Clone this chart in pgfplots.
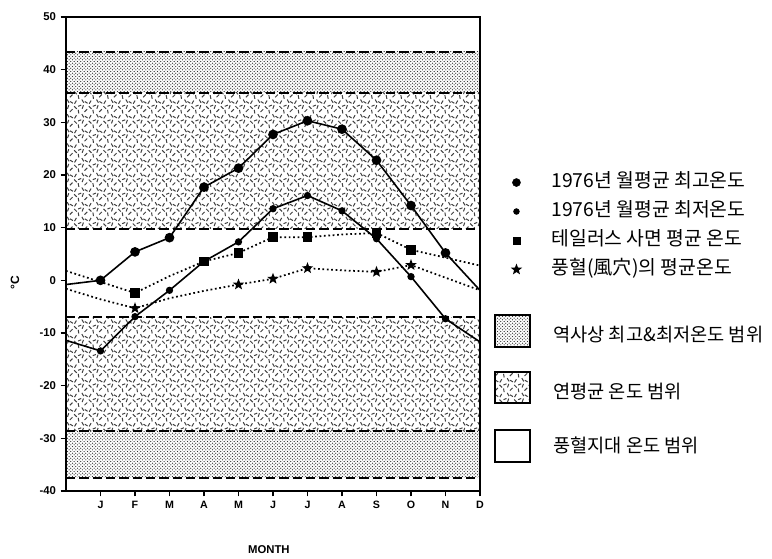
\documentclass[border=0pt]{standalone}
\usepackage{pgfplots}
\pgfplotsset{compat=1.18}
\usepackage{fontspec}
\setmainfont{Liberation Sans}
\newfontfamily\kr{Noto Sans CJK KR}
\usetikzlibrary{patterns}

\pgfdeclarepatternformonly{stipple}{\pgfqpoint{-1pt}{-1pt}}{\pgfqpoint{3.5pt}{3.5pt}}{\pgfqpoint{2.5pt}{2.5pt}}{%
  \pgfpathcircle{\pgfqpoint{0.6pt}{0.6pt}}{0.48pt}%
  \pgfpathcircle{\pgfqpoint{1.85pt}{1.85pt}}{0.48pt}%
  \pgfusepath{fill}}

\pgfdeclarepatternformonly{dashbits}{\pgfqpoint{-1pt}{-1pt}}{\pgfqpoint{12pt}{12pt}}{\pgfqpoint{11pt}{11pt}}{%
  \pgfsetlinewidth{0.75pt}%
  \pgfpathmoveto{\pgfqpoint{0.9pt}{0.39pt}}\pgfpathlineto{\pgfqpoint{2.3pt}{2.81pt}}%
  \pgfpathmoveto{\pgfqpoint{7.8pt}{1.19pt}}\pgfpathlineto{\pgfqpoint{6.4pt}{3.61pt}}%
  \pgfpathmoveto{\pgfqpoint{4.14pt}{4.12pt}}\pgfpathlineto{\pgfqpoint{3.66pt}{6.88pt}}%
  \pgfpathmoveto{\pgfqpoint{8.41pt}{5.31pt}}\pgfpathlineto{\pgfqpoint{10.39pt}{7.29pt}}%
  \pgfpathmoveto{\pgfqpoint{2.59pt}{7.61pt}}\pgfpathlineto{\pgfqpoint{0.61pt}{9.59pt}}%
  \pgfpathmoveto{\pgfqpoint{6.62pt}{7.68pt}}\pgfpathlineto{\pgfqpoint{7.58pt}{10.32pt}}%
  \pgfpathmoveto{\pgfqpoint{10.7pt}{0.8pt}}\pgfpathlineto{\pgfqpoint{8.6pt}{2.1pt}}%
  \pgfpathmoveto{\pgfqpoint{3.6pt}{9.5pt}}\pgfpathlineto{\pgfqpoint{5.9pt}{10.4pt}}%
  \pgfusepath{stroke}}

\pgfdeclareplotmark{fstar}{%
  \pgfpathmoveto{\pgfpointpolar{90}{\pgfplotmarksize}}%
  \pgfpathlineto{\pgfpointpolar{126}{0.42\pgfplotmarksize}}%
  \pgfpathlineto{\pgfpointpolar{162}{\pgfplotmarksize}}%
  \pgfpathlineto{\pgfpointpolar{198}{0.42\pgfplotmarksize}}%
  \pgfpathlineto{\pgfpointpolar{234}{\pgfplotmarksize}}%
  \pgfpathlineto{\pgfpointpolar{270}{0.42\pgfplotmarksize}}%
  \pgfpathlineto{\pgfpointpolar{306}{\pgfplotmarksize}}%
  \pgfpathlineto{\pgfpointpolar{342}{0.42\pgfplotmarksize}}%
  \pgfpathlineto{\pgfpointpolar{18}{\pgfplotmarksize}}%
  \pgfpathlineto{\pgfpointpolar{54}{0.42\pgfplotmarksize}}%
  \pgfpathclose\pgfusepathqfill}

\begin{document}
\begin{tikzpicture}
\useasboundingbox (-49.5pt,-51pt) rectangle (529.5pt,368.25pt);
\begin{axis}[
  at={(0,0)}, anchor=south west,
  scale only axis, width=310.5pt, height=355.5pt,
  xmin=0, xmax=12, ymin=-40, ymax=50,
  xtick={1,...,12},
  xticklabels={J,F,M,A,M,J,J,A,S,O,N,D},
  ytick={-40,-30,...,50},
  tick align=outside, xtick pos=bottom, ytick pos=left,
  major tick length=4pt,
  tick style={black, line width=1pt},
  axis line style={line width=1.5pt},
  axis on top,
  /pgf/number format/assume math mode=true,
  ticklabel style={font=\fontsize{8.5}{9}\selectfont\bfseries},
  xticklabel style={font=\fontsize{8}{9}\selectfont\bfseries},
  ylabel={°C},
  ylabel style={at={(axis description cs:-0.123,0.44)}, anchor=center, font=\fontsize{9}{10}\selectfont\bfseries},
  xlabel={MONTH},
  xlabel style={at={(axis description cs:0.49,0)}, anchor=center, yshift=-44pt, font=\fontsize{8.5}{9}\selectfont\bfseries},
  legend style={at={(axis description cs:1.064,0.683)}, anchor=north west, draw=none, fill=none,
    font=\kr\fontsize{14.5}{16}\selectfont, row sep=3.25pt, column sep=20pt,
    nodes={text height=11pt, text depth=3.5pt}},
  legend cell align=left,
]
% historical max/min bands
\addplot[draw=none, pattern=stipple, pattern color=black!80, forget plot] coordinates {(0,35.6) (12,35.6) (12,43.4) (0,43.4)} -- cycle;
\addplot[draw=none, pattern=stipple, pattern color=black!80, forget plot] coordinates {(0,-37.5) (12,-37.5) (12,-28.6) (0,-28.6)} -- cycle;
% annual mean range bands
\addplot[draw=none, pattern=dashbits, pattern color=black!75, forget plot] coordinates {(0,9.8) (12,9.8) (12,35.6) (0,35.6)} -- cycle;
\addplot[draw=none, pattern=dashbits, pattern color=black!75, forget plot] coordinates {(0,-28.6) (12,-28.6) (12,-7.0) (0,-7.0)} -- cycle;
% boundaries
\addplot[black, line width=1.3pt, dash pattern=on 7pt off 3pt, forget plot] coordinates {(0,43.4) (12,43.4)};
\addplot[black, line width=1.3pt, dash pattern=on 7pt off 3pt, forget plot] coordinates {(0,35.6) (12,35.6)};
\addplot[black, line width=1.3pt, dash pattern=on 7pt off 3pt, forget plot] coordinates {(0,9.8) (12,9.8)};
\addplot[black, line width=1.3pt, dash pattern=on 7pt off 3pt, forget plot] coordinates {(0,-7.0) (12,-7.0)};
\addplot[black, line width=1.3pt, dash pattern=on 7pt off 3pt, forget plot] coordinates {(0,-28.6) (12,-28.6)};
\addplot[black, line width=1.3pt, dash pattern=on 7pt off 3pt, forget plot] coordinates {(0,-37.5) (12,-37.5)};
% 1976 monthly mean max
\addplot[black, line width=1.2pt, mark=*, mark size=3pt, mark indices={2,...,12}, forget plot] coordinates {
 (0,-0.8) (1,0.0) (2,5.4) (3,8.1) (4,17.7) (5,21.3) (6,27.7) (7,30.3) (8,28.7) (9,22.8) (10,14.2) (11,5.2) (12,-1.9)};
% 1976 monthly mean min
\addplot[black, line width=1.2pt, mark=*, mark size=2.1pt, mark indices={2,...,12}, forget plot] coordinates {
 (0,-11.4) (1,-13.4) (2,-6.9) (3,-1.9) (4,3.6) (5,7.3) (6,13.6) (7,16.1) (8,13.2) (9,7.9) (10,0.7) (11,-7.3) (12,-11.7)};
% talus slope mean
\addplot[black, line width=1.3pt, dash pattern=on 1.3pt off 2pt, mark=square*, mark size=3pt, mark options={solid}, mark indices={3,5,6,7,8,10,11}, forget plot] coordinates {
 (0,1.8) (1,-0.3) (2,-2.4) (3,0.8) (4,3.6) (5,5.2) (6,8.2) (7,8.2) (8,8.7) (9,9.0) (10,5.8) (11,4.3) (12,2.8)};
% wind hole mean
\addplot[black, line width=1.3pt, dash pattern=on 1.3pt off 2pt, mark=fstar, mark size=4.5pt, mark options={solid}, mark indices={3,6,7,8,10,11}, forget plot] coordinates {
 (0,-1.6) (1,-3.6) (2,-5.3) (3,-3.4) (4,-2.0) (5,-0.8) (6,0.3) (7,2.3) (8,1.9) (9,1.6) (10,2.9) (11,0.5) (12,-1.9)};
% legend
\addlegendimage{only marks, mark=*, mark size=3pt, black}
\addlegendentry{1976년 월평균 최고온도}
\addlegendimage{only marks, mark=*, mark size=2.2pt, black}
\addlegendentry{1976년 월평균 최저온도}
\addlegendimage{only marks, mark=square*, mark size=2.6pt, black}
\addlegendentry{테일러스 사면 평균 온도}
\addlegendimage{only marks, mark=fstar, mark size=4.5pt, black}
\addlegendentry{풍혈(風穴)의 평균온도}
\end{axis}
% area legend
\draw[line width=1.3pt, pattern=stipple, pattern color=black!80] (321.75pt,108pt) rectangle (348pt,132pt);
\draw[line width=1.3pt, pattern=dashbits, pattern color=black!75] (321.75pt,66pt) rectangle (348pt,89.25pt);
\draw[line width=1.3pt] (321.75pt,21.75pt) rectangle (348pt,45.75pt);
\node[anchor=west, inner sep=0pt, font=\kr\fontsize{14}{16}\selectfont] at (365.25pt,117pt) {역사상 최고\&최저온도 범위};
\node[anchor=west, inner sep=0pt, font=\kr\fontsize{14}{16}\selectfont] at (365.25pt,74.25pt) {연평균 온도 범위};
\node[anchor=west, inner sep=0pt, font=\kr\fontsize{14}{16}\selectfont] at (365.25pt,34.5pt) {풍혈지대 온도 범위};
\end{tikzpicture}
\end{document}
